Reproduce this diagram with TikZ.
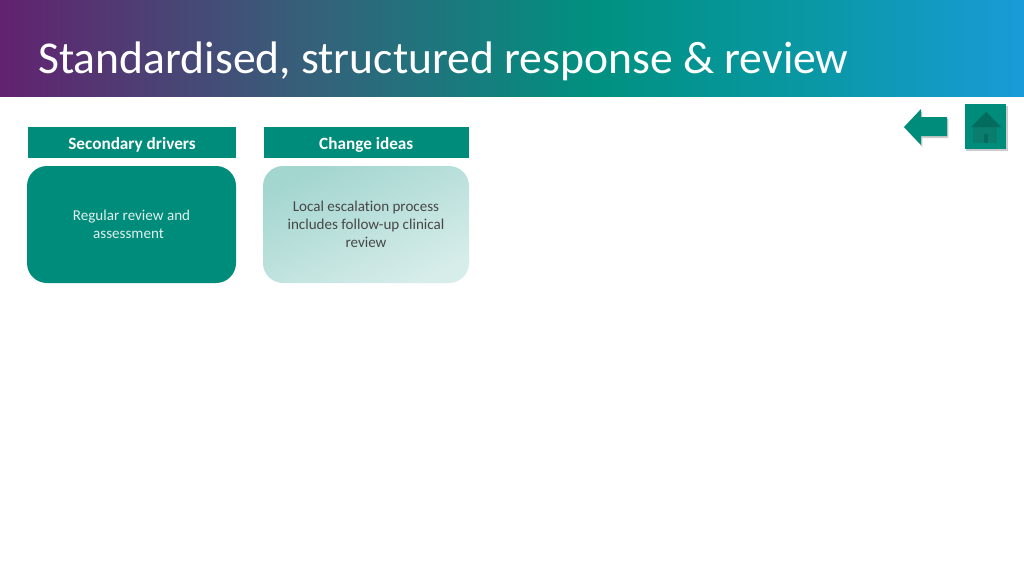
\documentclass[tikz,border=0pt]{standalone}
\usepackage{fontspec}
\setmainfont[Ligatures=NoCommon]{Carlito}
\usetikzlibrary{shadows}
\definecolor{nhsteal}{HTML}{008C7A}
\definecolor{housedark}{HTML}{046B5F}
\definecolor{housemid}{HTML}{0A7D6E}
\definecolor{fadepurple}{HTML}{62226F}
\definecolor{fadeslate}{HTML}{36607A}
\definecolor{fadegreen}{HTML}{009180}
\definecolor{fadeteal}{HTML}{0A98A6}
\definecolor{fadeblue}{HTML}{199BD8}
\pgfdeclarehorizontalshading{bannerfade}{100bp}{
  color(0bp)=(fadepurple);
  color(25bp)=(fadepurple);
  color(40bp)=(fadeslate);
  color(54bp)=(fadegreen);
  color(65bp)=(fadeteal);
  color(75bp)=(fadeblue);
  color(100bp)=(fadeblue)}
\tikzset{
  px/.style={minimum width=#1*0.75pt},
  headbox/.style={fill=nhsteal,text=white,font=\fontsize{12.9}{15}\selectfont\bfseries,
    text height=10.5pt,text depth=0pt,minimum height=23.25pt,inner sep=0pt},
  bodybox/.style={rounded corners=15pt,minimum height=87.75pt,inner sep=0pt,
    font=\fontsize{11.3}{13.5}\selectfont,align=center},
  softshadow/.style={drop shadow={shadow xshift=1pt,shadow yshift=-1.5pt,opacity=.2,fill=black}}
}
\newcommand\headline[4]{% name, centre x, width, tag
\node (#1) at (#2,142.5) [headbox,px=#3] {#4};}
\begin{document}
\begin{tikzpicture}[x=0.75pt,y=-0.75pt]
      \useasboundingbox (0,0) rectangle (1024,576);
      \fill[white] (0,0) rectangle (1024,576);

      % banner
      \shade[shading=bannerfade] (0,0) rectangle (1024,96.5);
      \node (title) at (38,61) [anchor=west,inner sep=0pt,text=white,font=\fontsize{34.2}{38}\selectfont] {Standardised, structured response \& review};

      % columns
      \headline{drivers}{132}{208}{Secondary drivers}
      \headline{ideas}{366.25}{205.5}{Change ideas}

      \node (review) at (131.5,224.5) [bodybox,fill=nhsteal,text=white!88!nhsteal,px=209] {Regular review and\\assessment\hspace*{4.5pt}};
      \node (escalation) at (366,224.5) [bodybox,px=206,text=black!72,
        left color=nhsteal!36!white,right color=nhsteal!16!white,shading angle=25]
        {Local escalation process\\includes follow-up clinical\\review};

      % back arrow
      \fill[nhsteal,softshadow] (904,127) -- (921,109) -- (921,117) -- (947,117) -- (947,136) -- (921,136) -- (921,145) -- cycle;

      % home button
      \node (home) at (985.5,126.5) [fill=nhsteal,softshadow,minimum width=31pt,minimum height=34pt,inner sep=0pt] {};
      \fill[housemid] (973,127) rectangle (997,143);
      \fill[housedark] (986,112) -- (1001,127) -- (971,127) -- cycle;
      \fill[housedark] (984,134) rectangle (988,143);
    \end{tikzpicture}
\end{document}
